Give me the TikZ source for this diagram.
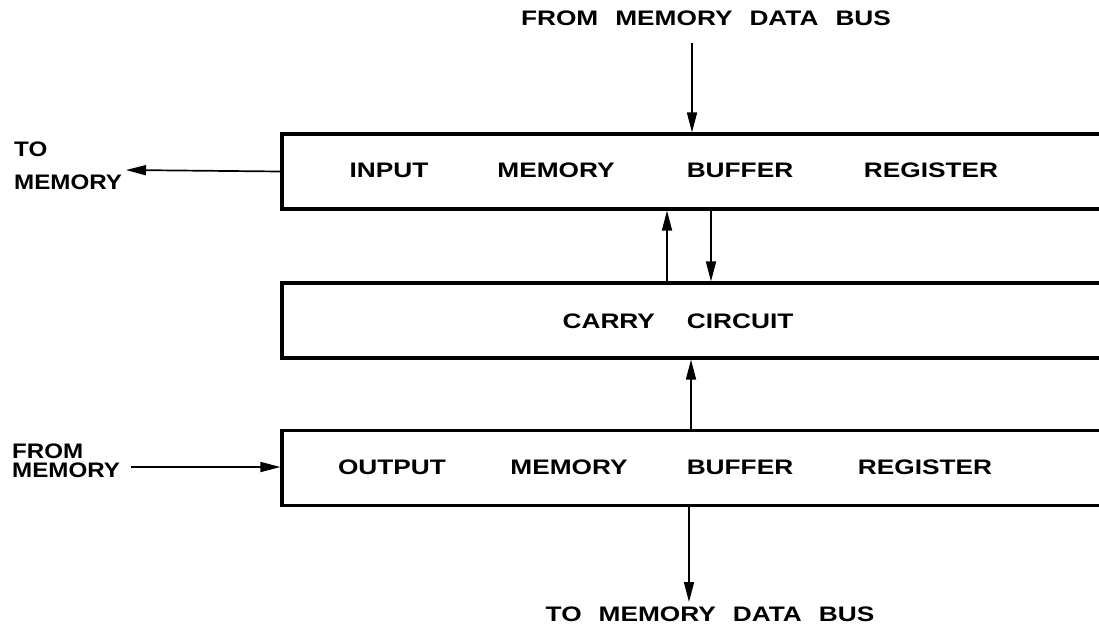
\documentclass[tikz,border=0pt]{standalone}
\usepackage{fontspec}
\setmainfont{Liberation Sans}[FakeStretch=1.25]
\newfontfamily\sidefont{Liberation Sans}[FakeStretch=1.15]
\usetikzlibrary{arrows.meta}
\newcommand\wgap{\hspace{17pt}}
\tikzset{
  regbox/.style={draw, line width=3.2pt, rectangle, inner sep=0pt,
    minimum width=838pt, minimum height=75pt},
  lbl/.style={font=\fontsize{21}{25}\selectfont\bfseries, inner sep=0pt},
  sidelbl/.style={font=\sidefont\fontsize{21}{25}\selectfont\bfseries,
    inner sep=0pt, align=left, anchor=west},
  arr/.style={line width=1.7pt, -{Triangle[length=20pt,width=10pt]}}
}
\begin{document}
\begin{tikzpicture}[x=1pt,y=-1pt]
  \clip (0,0) rectangle (1099,629);
  \fill[white] (0,0) rectangle (1099,629);

  % the three registers; their right ends run past the sheet
  \node[regbox] (imbr)  at (701,171.5) {};
  \node[regbox] (carry) at (701,320.5) {};
  \node[regbox] (ombr)  at (701,468)   {};

  % register captions
  \node[lbl] (in1) at (389,170) {INPUT};
  \node[lbl] (in2) at (556,170) {MEMORY};
  \node[lbl] (in3) at (740,170) {BUFFER};
  \node[lbl] (in4) at (931,170) {REGISTER};

  \node[lbl] (cc) at (678,321) {CARRY\hspace{32pt}CIRCUIT};

  \node[lbl] (out1) at (392,467) {OUTPUT};
  \node[lbl] (out2) at (569,467) {MEMORY};
  \node[lbl] (out3) at (740,467) {BUFFER};
  \node[lbl] (out4) at (925,467) {REGISTER};

  % external signals
  \node[lbl] (busin)  at (706,18)  {FROM\wgap MEMORY\wgap DATA\wgap BUS};
  \node[lbl] (busout) at (710,614) {TO\wgap MEMORY\wgap DATA\wgap BUS};
  \node[sidelbl] (tomemlbl)   at (14,166) {TO\\[8pt]MEMORY};
  \node[sidelbl] (frommemlbl) at (12,461) {FROM\\[-6pt]MEMORY};

  \coordinate (tomem)   at (126,170);
  \coordinate (frommem) at (131,467);
  \coordinate (topbus)  at (692,43);
  \coordinate (botbus)  at (689,602);
  \coordinate (c1) at (667,250);
  \coordinate (c2) at (711,250);
  \coordinate (c3) at (691,395);

  % connectors
  \draw[arr] (imbr.west) -- (tomem);
  \draw[arr] (frommem) -- (frommem -| ombr.west);
  \draw[arr] (topbus) -- (imbr.north -| topbus);
  \draw[arr] (carry.north -| c1) -- (imbr.south -| c1);
  \draw[arr] (imbr.south -| c2) -- (carry.north -| c2);
  \draw[arr] (ombr.north -| c3) -- (carry.south -| c3);
  \draw[arr] (ombr.south -| botbus) -- (botbus);
\end{tikzpicture}
\end{document}
